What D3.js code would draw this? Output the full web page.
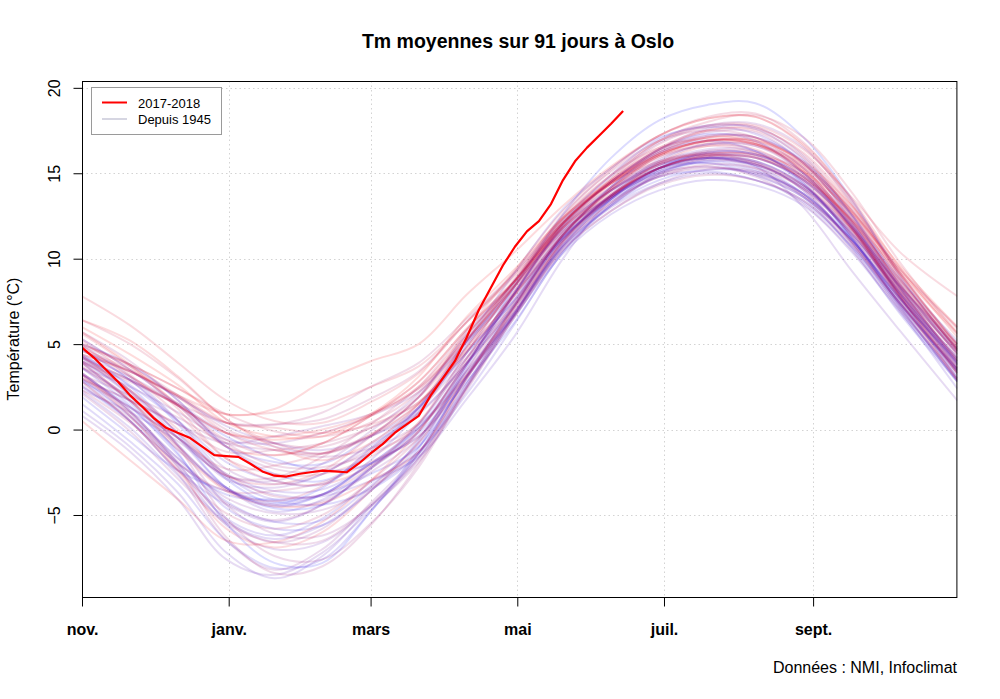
<!DOCTYPE html>
<html><head><meta charset="utf-8">
<script src="https://cdn.jsdelivr.net/npm/d3@7"></script>
<style>
body{margin:0;background:#fff}
svg{display:block}
text{font-family:"Liberation Sans",Arial,Helvetica,sans-serif;fill:#000}
</style>
</head><body>
<svg id="chart" width="1000" height="699"></svg>
<script>
// ---- data ----
const monthLabels = ["nov.","janv.","mars","mai","juil.","sept."];
const monthDays = [0,61,120,181,242,304];
const yTicks = [-5,0,5,10,15,20];
const days = [0,20,40,60,80,100,120,140,160,180,200,220,240,260,280,300,320,340,364];
const years = [1945,1946,1947,1948,1949,1950,1951,1952,1953,1954,1955,1956,1957,1958,1959,1960,1961,1962,1963,1964,1965,1966,1967,1968,1969,1970,1971,1972,1973,1974,1975,1976,1977,1978,1979,1980,1981,1982,1983,1984,1985,1986,1987,1988,1989,1990,1991,1992,1993,1994,1995,1996,1997,1998,1999,2000,2001,2002,2003,2004,2005,2006,2007,2008,2009,2010,2011,2012,2013,2014,2015,2016];
const tm = [
[4.3,2.5,-0.3,-3.4,-4.6,-4.4,-2.2,0.1,3.9,8.0,11.9,14.5,16.4,17.3,16.9,15.0,11.9,8.0,3.6],
[3.9,1.6,-1.4,-5.5,-7.8,-7.8,-4.8,-1.1,3.7,8.4,12.6,15.9,18.1,19.0,19.1,17.1,13.5,9.0,4.6],
[4.7,2.9,0.3,-2.9,-4.3,-3.4,-1.1,1.3,4.5,7.6,11.4,14.2,16.2,16.9,16.3,14.4,11.2,7.4,3.5],
[5.0,3.8,1.7,-1.0,-2.6,-3.0,-1.4,1.2,4.9,8.5,11.7,13.7,15.3,16.0,15.9,14.6,11.9,8.4,4.7],
[4.2,2.9,1.4,-0.4,-1.7,-2.4,-2.0,-0.2,3.1,6.9,10.8,13.5,15.3,16.2,16.1,14.8,11.8,7.8,3.4],
[3.2,1.3,-1.2,-3.4,-4.5,-3.8,-2.0,-0.4,2.8,6.3,10.4,13.2,15.2,15.9,15.4,13.8,11.1,7.7,4.0],
[2.5,0.5,-2.0,-3.8,-4.1,-3.8,-2.6,-1.0,3.1,7.3,11.4,14.0,15.5,15.9,15.7,14.3,11.2,7.2,2.8],
[1.9,-0.3,-2.4,-3.6,-4.2,-4.4,-3.5,-1.4,2.7,6.8,10.7,13.1,14.6,15.2,15.0,13.8,11.1,7.5,3.5],
[5.3,3.5,1.4,-1.0,-1.9,-2.0,-0.4,1.9,5.6,8.7,12.1,14.5,16.3,17.2,17.1,15.7,12.6,8.6,4.4],
[3.6,1.4,-1.5,-4.6,-5.8,-5.6,-3.6,-0.6,3.8,8.0,11.8,14.0,15.3,15.6,14.9,13.6,11.1,7.7,3.9],
[2.9,0.8,-1.7,-4.2,-5.4,-5.3,-3.3,-0.8,3.5,8.0,12.1,14.9,17.0,17.8,17.6,15.8,12.5,8.3,3.8],
[1.5,-0.7,-3.2,-6.5,-8.1,-7.6,-4.8,-1.4,3.1,7.3,11.2,13.4,14.8,15.1,14.6,13.3,10.7,7.3,3.4],
[4.4,2.6,0.5,-1.9,-3.0,-3.2,-1.3,1.3,5.1,8.4,11.6,13.6,15.1,15.7,15.5,14.2,11.5,8.0,4.2],
[3.3,1.1,-2.0,-5.2,-6.2,-5.2,-3.1,-1.3,2.1,6.2,10.4,13.1,14.9,15.7,15.2,13.6,10.6,6.8,2.8],
[4.9,3.1,0.5,-2.7,-4.1,-3.8,-1.8,1.0,5.2,9.2,12.9,15.3,17.1,17.7,17.3,15.6,12.2,7.8,3.0],
[2.8,1.3,-0.5,-2.6,-3.6,-3.5,-2.0,0.3,4.2,8.0,11.3,13.5,15.0,15.8,15.6,14.0,10.9,7.0,2.4],
[4.0,2.0,-0.9,-3.5,-4.4,-3.8,-2.0,0.1,3.4,6.7,10.3,12.6,14.0,14.6,14.3,13.1,10.4,6.9,2.9],
[2.2,0.1,-2.7,-5.4,-6.4,-5.6,-3.6,-1.0,3.0,6.8,10.8,13.5,15.1,15.6,15.1,13.8,11.2,7.7,3.8],
[4.2,2.3,-0.5,-3.4,-4.8,-4.1,-2.3,-0.1,3.9,7.8,11.2,13.6,15.3,16.2,16.1,14.7,12.0,8.5,4.8],
[3.6,1.9,-0.5,-2.8,-3.8,-3.9,-3.0,-1.6,1.8,5.5,10.0,13.5,15.4,16.3,16.1,14.8,12.1,8.3,4.0],
[1.1,-1.0,-3.7,-7.2,-8.7,-7.4,-4.5,-1.6,2.5,6.6,10.6,13.0,14.4,15.0,14.6,13.4,10.7,7.1,3.0],
[2.6,0.5,-2.4,-4.4,-5.4,-4.4,-2.3,0.3,4.5,8.4,11.8,14.0,15.5,16.1,15.9,14.6,11.9,8.3,4.5],
[4.6,3.4,1.9,0.2,-0.8,-1.2,-0.4,1.3,4.5,7.6,11.1,13.5,15.3,16.1,16.0,14.4,11.3,7.5,3.3],
[3.0,0.8,-2.2,-5.6,-7.0,-6.6,-4.5,-1.4,3.2,7.4,11.3,13.6,15.3,15.9,15.4,13.0,9.3,5.8,1.7],
[0.8,-1.3,-4.1,-7.6,-8.5,-7.2,-4.7,-1.7,2.5,6.8,11.0,13.7,15.6,16.4,16.3,15.0,12.3,8.8,5.2],
[4.0,2.2,-0.2,-2.9,-3.4,-2.6,-0.9,0.9,3.9,7.2,10.7,13.1,15.0,15.9,15.7,14.3,11.5,8.0,4.2],
[4.3,3.1,1.5,-0.2,-1.0,-1.4,-0.4,1.0,3.9,7.3,11.1,13.8,15.8,16.7,16.3,14.5,11.3,7.3,2.8],
[2.3,1.0,-0.7,-2.7,-3.0,-2.0,-0.1,2.1,5.2,8.2,11.5,13.7,15.3,15.9,15.5,14.1,11.4,7.9,4.1],
[3.6,2.5,1.0,-0.6,-0.8,-0.2,0.8,2.2,5.1,8.0,11.2,13.7,15.7,16.7,16.6,15.0,11.8,7.7,3.3],
[2.9,1.7,0.3,-0.8,-0.4,0.2,0.9,2.4,5.3,8.6,12.3,14.8,16.8,17.8,17.9,16.5,13.3,9.2,5.0],
[4.7,2.9,0.5,-2.3,-3.2,-2.6,-0.8,1.2,4.2,7.4,11.3,14.2,16.4,17.6,17.7,16.0,12.6,8.4,3.9],
[3.2,1.0,-1.7,-4.0,-4.9,-4.7,-3.4,-1.3,3.0,7.2,11.2,13.6,15.0,15.4,14.9,13.6,11.1,7.7,4.0],
[3.9,1.7,-1.0,-3.4,-4.4,-4.2,-2.5,-0.5,3.4,6.9,10.5,12.8,14.4,15.2,15.1,13.8,11.0,7.4,3.0],
[2.8,0.5,-2.6,-6.5,-8.2,-7.0,-4.3,-1.4,2.7,6.8,10.8,13.2,14.8,15.4,14.8,13.2,10.5,7.0,3.2],
[4.2,2.0,-0.9,-4.4,-6.1,-6.2,-4.5,-1.9,2.3,6.7,11.0,13.7,15.3,15.9,15.3,13.7,10.9,7.4,3.5],
[2.5,0.7,-1.9,-4.3,-5.3,-4.4,-2.3,0.0,3.8,7.6,11.6,14.1,15.6,16.0,15.5,14.1,11.4,7.9,4.1],
[3.3,1.1,-2.0,-5.3,-6.6,-5.8,-3.4,-0.7,3.8,8.0,11.9,14.2,15.7,16.2,15.7,14.3,11.7,8.4,5.0],
[5.7,4.0,1.7,-1.0,-2.3,-2.4,-1.1,1.3,5.2,8.7,12.0,14.5,16.4,17.4,17.4,15.6,12.3,8.2,3.8],
[3.2,2.0,0.7,-0.8,-1.2,-1.6,-1.1,0.3,3.2,7.0,11.0,13.6,15.2,15.8,15.5,14.2,11.6,8.2,4.6],
[4.3,2.2,-1.0,-5.2,-7.4,-7.6,-5.5,-2.2,2.5,7.2,11.4,14.0,15.6,16.1,15.6,14.0,11.0,7.2,2.9],
[2.1,-0.1,-2.9,-5.5,-6.6,-6.5,-4.4,-1.7,2.5,6.8,10.9,13.3,14.8,15.3,15.0,13.7,11.0,7.4,3.3],
[3.3,1.0,-2.2,-6.3,-8.4,-8.0,-5.6,-2.0,2.4,6.6,10.5,12.8,14.3,14.9,14.6,13.4,10.8,7.4,3.6],
[4.0,2.9,1.4,-0.8,-2.1,-2.2,-1.4,0.1,3.2,6.7,10.7,13.3,14.9,15.5,15.3,14.1,11.5,8.1,4.5],
[3.9,2.8,1.5,0.4,0.3,0.6,1.8,3.4,6.3,9.1,12.2,14.5,16.2,17.1,17.1,15.6,12.5,8.5,4.4],
[4.4,3.4,1.9,0.4,0.3,1.0,2.5,3.9,6.5,9.2,12.3,14.4,15.9,16.7,16.6,15.3,12.6,8.8,4.7],
[3.6,1.7,-0.5,-2.7,-2.8,-1.6,0.3,2.5,5.8,8.7,11.9,14.2,16.1,16.9,16.8,15.1,12.0,8.0,3.8],
[4.9,3.7,2.0,0.0,-0.8,-1.0,0.1,1.9,5.2,8.8,12.6,15.1,16.9,17.5,17.1,15.3,12.1,8.1,3.6],
[3.0,1.7,0.3,-1.3,-1.2,-0.8,0.1,1.6,4.6,7.9,11.4,13.7,15.3,16.0,15.9,14.6,11.8,7.9,3.6],
[2.3,0.4,-2.0,-3.6,-3.6,-3.1,-1.9,-0.4,3.1,7.0,11.1,13.7,15.5,16.3,16.2,14.9,12.2,8.7,5.0],
[4.0,2.3,-0.2,-2.6,-3.9,-3.8,-2.2,-0.1,4.1,8.1,12.0,14.6,16.7,17.7,17.7,16.1,12.9,8.9,4.7],
[2.8,0.5,-2.4,-4.9,-5.8,-5.0,-3.0,-0.5,3.5,7.5,11.4,14.1,16.1,16.9,16.9,15.3,12.0,7.9,3.5],
[3.7,1.7,-1.0,-3.5,-4.2,-3.3,-1.2,1.0,4.9,8.7,12.5,15.2,17.2,18.3,18.5,16.8,13.4,9.2,4.8],
[5.3,3.5,1.5,-0.6,-1.5,-0.8,0.8,2.8,5.9,8.8,12.1,14.4,16.0,16.6,16.2,14.6,11.7,8.1,4.2],
[3.0,1.3,-0.5,-2.3,-2.1,-1.4,-0.3,1.5,4.8,8.4,12.1,14.4,15.7,16.1,15.6,14.3,11.8,8.4,4.8],
[5.0,3.8,2.4,0.9,-0.1,-0.4,0.4,2.2,5.5,8.7,12.4,14.9,16.5,17.0,16.7,15.4,12.8,9.4,6.0],
[6.4,5.0,3.0,0.6,-0.8,-1.4,-0.4,1.5,4.6,7.9,11.4,14.0,16.0,16.8,16.7,15.5,12.9,9.4,5.9],
[5.2,3.2,0.9,-1.7,-2.6,-2.6,-1.6,0.4,4.2,8.1,12.0,14.7,16.9,18.0,18.4,17.1,13.9,9.8,5.6],
[4.3,2.3,0.0,-2.7,-3.2,-2.4,-0.4,1.9,5.8,9.3,12.8,15.3,17.2,18.2,18.3,16.6,13.2,9.0,4.6],
[4.7,3.5,1.9,-0.2,-1.2,-1.4,-0.3,1.9,5.5,8.7,12.0,14.5,16.4,17.5,17.6,16.2,13.1,9.1,5.0],
[4.4,3.4,2.0,0.4,0.1,-0.2,0.3,1.6,4.8,8.4,12.1,14.6,16.5,17.5,17.5,15.9,12.7,8.8,4.7],
[5.6,3.7,1.2,-1.7,-3.0,-3.2,-2.1,0.4,4.5,8.5,12.3,14.9,16.9,17.8,17.8,16.4,13.6,10.4,7.8],
[7.8,6.1,3.9,1.7,0.5,0.4,1.6,3.3,6.3,9.2,12.4,14.6,16.4,17.2,17.1,15.5,12.4,8.5,4.4],
[4.6,3.4,2.0,0.9,1.0,1.4,2.5,3.7,6.3,9.0,12.1,14.4,16.1,16.9,16.7,15.0,11.8,7.8,3.4],
[4.2,2.9,1.4,-0.2,-0.4,0.0,0.9,2.5,5.6,8.7,12.1,14.5,16.3,17.1,16.8,15.1,11.9,7.8,3.3],
[3.2,0.8,-2.4,-5.8,-6.9,-6.0,-3.6,-0.8,3.2,7.2,11.0,13.6,15.6,16.6,16.4,14.8,11.7,7.6,2.9],
[0.5,-1.8,-4.1,-6.5,-6.6,-5.4,-3.0,-0.1,3.9,7.9,11.8,14.4,16.2,17.1,17.0,15.6,12.8,9.2,5.6],
[6.4,5.2,3.1,0.6,-1.0,-1.8,-0.8,1.5,5.2,8.5,11.8,14.0,15.5,16.2,16.0,14.8,12.2,8.6,4.6],
[3.9,1.7,-1.2,-3.6,-4.5,-4.3,-3.0,-1.3,3.0,7.3,11.4,14.1,16.0,16.9,16.7,15.2,12.2,8.3,4.0],
[5.0,3.8,2.4,0.9,1.2,2.8,4.0,5.0,7.9,10.4,13.1,15.4,17.2,18.2,18.3,16.7,13.5,9.5,5.4],
[6.0,4.4,2.6,0.4,-0.4,-0.4,0.9,3.1,6.6,9.4,12.4,14.5,16.1,16.9,16.9,15.7,13.1,9.6,6.0],
[5.7,3.8,1.4,-1.0,-1.5,-0.8,0.8,2.8,5.9,8.7,11.8,13.8,15.3,16.1,16.1,15.1,12.7,9.3,5.7],
[4.9,3.1,1.4,-0.2,-0.6,-0.2,0.8,2.4,5.3,8.4,11.6,13.7,15.3,16.0,15.9,14.7,12.3,9.1,4.9]
];
const days2018 = [0,5,10,15,20,25,30,35,40,45,50,55,60,65,70,75,80,85,90,95,100,105,110,115,120,125,130,135,140,145,150,155,160,165,170,175,180,185,190,195,200,205,210,215,220,225];
const tm2018 = [4.8,4.2,3.5,2.8,2.0,1.35,0.65,0.1,-0.2,-0.5,-1.0,-1.5,-1.55,-1.6,-2.0,-2.45,-2.7,-2.75,-2.6,-2.5,-2.4,-2.45,-2.5,-2.0,-1.4,-0.85,-0.2,0.3,0.8,2.0,3.0,4.0,5.4,7.0,8.3,9.6,10.7,11.6,12.2,13.2,14.6,15.7,16.5,17.2,17.9,18.65];

// ---- layout ----
const svg = d3.select("#chart");
const L = 82, R = 957.4, T = 81, B = 597;
const x = d3.scaleLinear().domain([0,364]).range([L,R]);
const y = d3.scaleLinear().domain([-9.8,20.4]).range([B,T]);

svg.append("defs").append("clipPath").attr("id","clip")
  .append("rect").attr("x",L).attr("y",T).attr("width",R-L).attr("height",B-T);

// grid
const grid = svg.append("g").attr("stroke","#d3d3d3").attr("stroke-width",1).attr("stroke-dasharray","1.5,3");
grid.selectAll("line.h").data(yTicks).join("line")
  .attr("x1",L).attr("x2",R).attr("y1",d=>Math.round(y(d))+0.5).attr("y2",d=>Math.round(y(d))+0.5);
grid.selectAll("line.v").data(monthDays.slice(1)).join("line")
  .attr("y1",T).attr("y2",B).attr("x1",d=>Math.round(x(d))+0.5).attr("x2",d=>Math.round(x(d))+0.5);

// lines
const color = d3.scaleLinear().domain([0, years.length-1]).range(["blue","red"]).interpolate(d3.interpolateRgb);
const line = d3.line().x(d=>x(d[0])).y(d=>y(d[1])).curve(d3.curveCatmullRom.alpha(0.5));
const lg = svg.append("g").attr("clip-path","url(#clip)");
lg.selectAll("path.yr").data(tm).join("path")
  .attr("fill","none")
  .attr("stroke",(d,i)=>color(i))
  .attr("stroke-opacity",0.14)
  .attr("stroke-width",2)
  .attr("stroke-linejoin","round")
  .attr("d",row=>line(row.map((v,i)=>[days[i],v])));

const line2 = d3.line().x(d=>x(d[0])).y(d=>y(d[1]));
lg.append("path")
  .attr("fill","none").attr("stroke","#ff0000").attr("stroke-width",2.2)
  .attr("stroke-linejoin","round")
  .attr("d",line2(tm2018.map((v,i)=>[days2018[i],v])));

// box
svg.append("rect").attr("x",L+0.5).attr("y",T+0.5).attr("width",R-L-1).attr("height",B-T)
  .attr("fill","none").attr("stroke","#000").attr("stroke-width",1);

// y axis
const ya = svg.append("g").attr("transform",`translate(${L+0.5},0)`)
  .call(d3.axisLeft(y).tickValues(yTicks).tickSize(9).tickFormat(d3.format("d")));
ya.select(".domain").remove();
ya.selectAll("line").attr("stroke","#000");
ya.selectAll("text").attr("x",null).attr("dy",null)
  .attr("text-anchor","middle").attr("transform","translate(-23,0) rotate(-90)")
  .style("font-size","16px").attr("fill","#000");

// x axis
const xa = svg.append("g").attr("transform",`translate(0,${B+0.5})`)
  .call(d3.axisBottom(x).tickValues(monthDays).tickSize(9).tickFormat((d,i)=>monthLabels[i]));
xa.select(".domain").remove();
xa.selectAll("line").attr("stroke","#000");
xa.selectAll("text").attr("y",37).attr("dy",null)
  .style("font-size","16px").style("font-weight","bold").attr("fill","#000");
[ya, xa].forEach(g=>g.attr("font-family",null).attr("font-size",null));

// titles
svg.append("text").attr("x",518).attr("y",48).attr("text-anchor","middle")
  .style("font-size","19.5px").style("font-weight","bold").text("Tm moyennes sur 91 jours à Oslo");
svg.append("text").attr("transform","translate(19,339) rotate(-90)").attr("text-anchor","middle")
  .style("font-size","16px").text("Température (°C)");
svg.append("text").attr("x",957).attr("y",673).attr("text-anchor","end")
  .style("font-size","16px").text("Données : NMI, Infoclimat");

// legend
const leg = svg.append("g");
leg.append("rect").attr("x",91.5).attr("y",87.5).attr("width",130).attr("height",47)
  .attr("fill","#fff").attr("stroke","#9a9a9a");
leg.append("line").attr("x1",102).attr("x2",127).attr("y1",102.5).attr("y2",102.5)
  .attr("stroke","#ff0000").attr("stroke-width",2);
leg.append("line").attr("x1",102).attr("x2",127).attr("y1",119).attr("y2",119)
  .attr("stroke","#d6d6e2").attr("stroke-width",2);
leg.append("text").attr("x",138).attr("y",107.5).style("font-size","13px").text("2017-2018");
leg.append("text").attr("x",138).attr("y",124).style("font-size","13px").text("Depuis 1945");
</script>
</body></html>
